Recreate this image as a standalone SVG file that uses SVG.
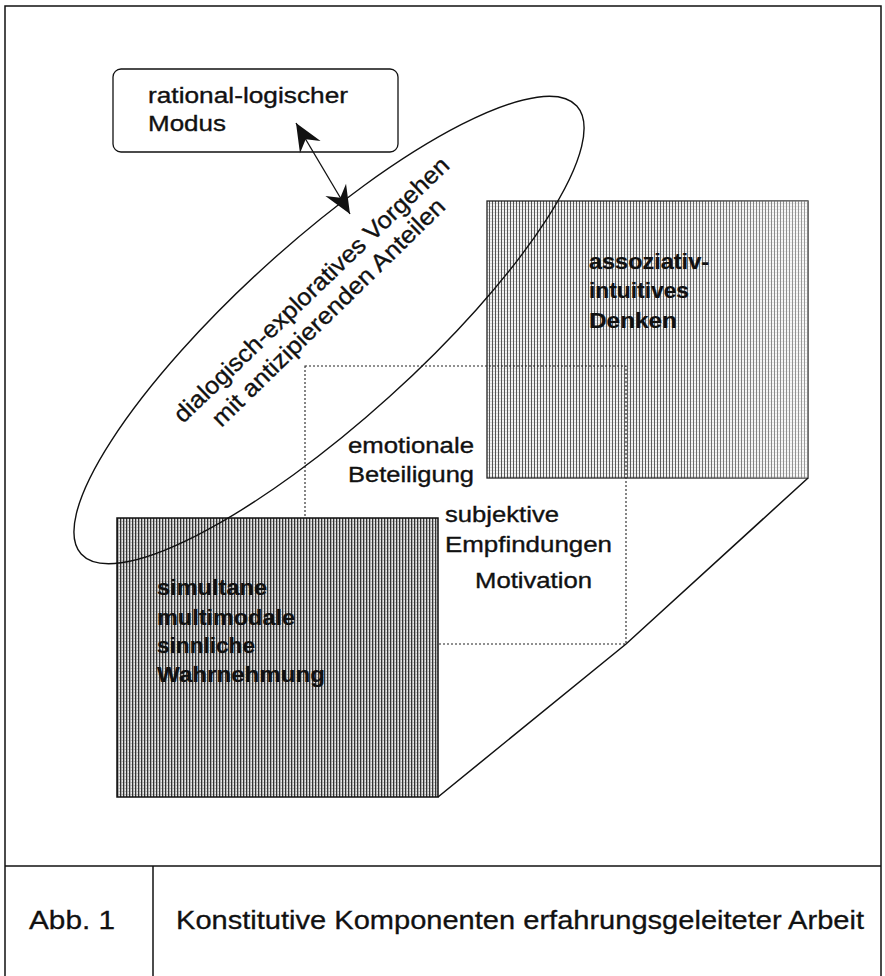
<svg xmlns="http://www.w3.org/2000/svg" width="885" height="976" viewBox="0 0 885 976">
  <defs>
    <style>
      .frame { fill: none; stroke: #111; stroke-width: 1.5; }
      .edge { fill: none; stroke: #111; stroke-width: 1.5; }
      .dotted { fill: none; stroke: #222; stroke-width: 1.1; stroke-dasharray: 2 2; }
      .t { font-family: "Liberation Sans", Arial, sans-serif; font-size: 22px; fill: #111; stroke: #111; stroke-width: 0.35; }
      .b { font-weight: bold; stroke-width: 0.2; }
      .rot { font-size: 24px; }
      .cap { font-family: "Liberation Sans", Arial, sans-serif; font-size: 26px; fill: #111; stroke: #111; stroke-width: 0.3; }
    </style>
    <pattern id="hatchDark" width="3" height="3" patternUnits="userSpaceOnUse">
      <rect width="3" height="3" fill="#e6e6e6"/>
      <rect x="0" y="0" width="1.3" height="3" fill="#333"/>
      <rect x="1.3" y="2.3" width="1.7" height="0.5" fill="#888"/>
    </pattern>
    <pattern id="hatchLight" width="3" height="3" patternUnits="userSpaceOnUse">
      <rect width="3" height="3" fill="#f3f3f3"/>
      <rect x="0" y="0" width="1" height="3" fill="#555"/>
      <rect x="1" y="2.4" width="2" height="0.4" fill="#aaa"/>
    </pattern>
    <linearGradient id="fade" x1="0" y1="0" x2="1" y2="0">
      <stop offset="0" stop-color="#fff" stop-opacity="0"/>
      <stop offset="0.55" stop-color="#fff" stop-opacity="0.05"/>
      <stop offset="1" stop-color="#fff" stop-opacity="0.4"/>
    </linearGradient>
    <marker id="head" viewBox="-30 -14 32 28" refX="0" refY="0" markerWidth="32" markerHeight="28" markerUnits="userSpaceOnUse" orient="auto-start-reverse">
      <path d="M0,0 L-28,-12 L-19,0 L-28,12 Z" fill="#111"/>
    </marker>
  </defs>

  <g id="frame">
    <path class="frame" d="M5,976 V6 H881 V976"/>
    <line class="frame" x1="5" y1="866" x2="881" y2="866"/>
    <line class="frame" x1="153" y1="866" x2="153" y2="976"/>
  </g>

  <g id="node-assoziativ">
    <rect x="487" y="201" width="321" height="277" fill="url(#hatchLight)" stroke="#222" stroke-width="1.3"/>
    <rect x="487" y="201" width="321" height="277" fill="url(#fade)"/>
    <text class="t b" x="589" y="269" textLength="120" lengthAdjust="spacingAndGlyphs">assoziativ-</text>
    <text class="t b" x="589" y="298" textLength="100" lengthAdjust="spacingAndGlyphs">intuitives</text>
    <text class="t b" x="589" y="328" textLength="88" lengthAdjust="spacingAndGlyphs">Denken</text>
  </g>

  <g id="node-mitte">
    <rect class="dotted" x="305" y="366" width="321" height="278"/>
    <text class="t" x="348" y="453" textLength="126" lengthAdjust="spacingAndGlyphs">emotionale</text>
    <text class="t" x="348" y="482" textLength="126" lengthAdjust="spacingAndGlyphs">Beteiligung</text>
    <text class="t" x="445" y="522" textLength="114" lengthAdjust="spacingAndGlyphs">subjektive</text>
    <text class="t" x="445" y="552" textLength="167" lengthAdjust="spacingAndGlyphs">Empfindungen</text>
    <text class="t" x="475" y="588" textLength="117" lengthAdjust="spacingAndGlyphs">Motivation</text>
  </g>

  <g id="node-wahrnehmung">
    <rect x="117" y="518" width="321" height="279" fill="url(#hatchDark)" stroke="#111" stroke-width="1.5"/>
    <text class="t b" x="157" y="595" textLength="110" lengthAdjust="spacingAndGlyphs">simultane</text>
    <text class="t b" x="157" y="625" textLength="138" lengthAdjust="spacingAndGlyphs">multimodale</text>
    <text class="t b" x="157" y="653" textLength="98" lengthAdjust="spacingAndGlyphs">sinnliche</text>
    <text class="t b" x="157" y="682" textLength="168" lengthAdjust="spacingAndGlyphs">Wahrnehmung</text>
  </g>

  <g id="node-rational">
    <rect x="113" y="69" width="285" height="83" rx="8" ry="8" fill="#fff" stroke="#111" stroke-width="1.3"/>
    <text class="t" x="148" y="103" textLength="200" lengthAdjust="spacingAndGlyphs">rational-logischer</text>
    <text class="t" x="148" y="131" textLength="78" lengthAdjust="spacingAndGlyphs">Modus</text>
  </g>

  <g id="node-dialogisch">
    <ellipse cx="329" cy="330" rx="334" ry="90" transform="rotate(-42.1 329 330)" fill="none" stroke="#111" stroke-width="1.4"/>
    <text class="t rot" x="317" y="295.5" text-anchor="middle" textLength="371" lengthAdjust="spacingAndGlyphs" transform="rotate(-43.8 317 295.5)">dialogisch-exploratives Vorgehen</text>
    <text class="t rot" x="334" y="318" text-anchor="middle" textLength="315" lengthAdjust="spacingAndGlyphs" transform="rotate(-44.3 334 318)">mit antizipierenden Anteilen</text>
  </g>

  <g id="connectors">
    <polyline class="edge" points="438,797 626,644 808,478"/>
    <line x1="296" y1="123" x2="350" y2="214" stroke="#111" stroke-width="1.3" marker-start="url(#head)" marker-end="url(#head)"/>
  </g>

  <g id="caption">
    <text class="cap" x="29" y="929" textLength="86" lengthAdjust="spacingAndGlyphs">Abb. 1</text>
    <text class="cap" x="176" y="929" textLength="688" lengthAdjust="spacingAndGlyphs">Konstitutive Komponenten erfahrungsgeleiteter Arbeit</text>
  </g>
</svg>
